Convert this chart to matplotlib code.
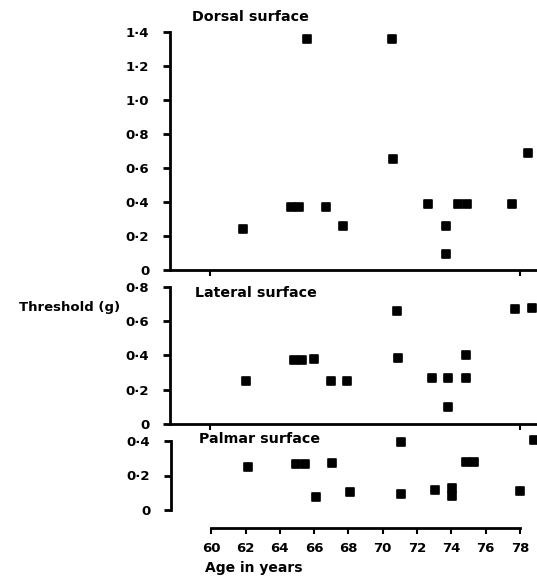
import matplotlib.pyplot as plt
from matplotlib.markers import MarkerStyle

# ages (years) and thresholds (g)
dorsal_age = [61.9, 64.7, 65.15, 65.6, 66.75, 67.7, 70.55, 70.65, 72.65, 73.7, 73.7, 74.4, 74.9, 77.55, 78.5]
dorsal_thr = [0.24, 0.37, 0.37, 1.36, 0.37, 0.26, 1.36, 0.655, 0.39, 0.26, 0.094, 0.39, 0.39, 0.39, 0.69]

lateral_age = [62.1, 64.85, 65.3, 66.05, 67.0, 67.95, 70.85, 70.9, 72.9, 73.85, 73.85, 74.85, 74.85, 77.7, 78.7]
lateral_thr = [0.253, 0.373, 0.373, 0.377, 0.25, 0.25, 0.66, 0.387, 0.27, 0.27, 0.10, 0.40, 0.27, 0.67, 0.675]

palmar_age = [62.15, 64.95, 65.45, 67.05, 66.1, 68.1, 71.05, 71.05, 73.05, 74.05, 74.05, 74.85, 75.35, 78.0, 78.8]
palmar_thr = [0.251, 0.265, 0.265, 0.27, 0.074, 0.106, 0.396, 0.091, 0.116, 0.126, 0.081, 0.28, 0.28, 0.112, 0.406]

age_ticks = [60, 62, 64, 66, 68, 70, 72, 74, 76, 78]

plt.rcParams['font.family'] = 'DejaVu Sans'
plt.rcParams['font.weight'] = 'bold'
plt.rcParams['font.size'] = 9.5

fig = plt.figure(figsize=(5.37, 5.8), dpi=100)
W, H = 537.0, 580.0

def box(x0, ytop, ybot):
    return [x0 / W, (H - ybot) / H, (W - x0) / W, (ybot - ytop) / H]

def lab(v):
    return '0' if v == 0 else ('%.1f' % v).replace('.', '\u00b7')

xlim = (57.65, 79.0)
sq = MarkerStyle('s', joinstyle='round')

panels = [
    ('Dorsal surface', dorsal_age, dorsal_thr, [0, 0.2, 0.4, 0.6, 0.8, 1.0, 1.2, 1.4], box(170, 32.3, 270)),
    ('Lateral surface', lateral_age, lateral_thr, [0, 0.2, 0.4, 0.6, 0.8], box(170, 286.7, 424)),
    ('Palmar surface', palmar_age, palmar_thr, [0, 0.2, 0.4], box(171, 441, 510)),
]

axes = []
for name, xs, ys, yt, pos in panels:
    ax = fig.add_axes(pos)
    ax.plot(xs, ys, linestyle='none', marker=sq, markersize=5.5, markeredgewidth=1.2,
            color='black', clip_on=False)
    ax.set_xlim(*xlim)
    ax.set_ylim(0, yt[-1])
    ax.set_yticks(yt)
    ax.set_yticklabels([lab(v) for v in yt])
    ax.spines['top'].set_visible(False)
    ax.spines['right'].set_visible(False)
    for s in ax.spines.values():
        s.set_linewidth(2)
    ax.tick_params(axis='y', direction='out', length=5, width=2, pad=10)
    ax.tick_params(axis='x', direction='out', length=4, width=1.5)
    ax.patch.set_visible(False)
    axes.append(ax)

ax1, ax2, ax3 = axes
for ax in (ax1, ax2):
    ax.set_xticks([60, 78])
    ax.set_xticklabels([])

ax3.spines['left'].set_bounds(0, 0.4)
ax3.spines['bottom'].set_position(('outward', 13))
ax3.spines['bottom'].set_bounds(60, 78)
ax3.set_xticks(age_ticks)
ax3.set_xticklabels([str(a) for a in age_ticks])
ax3.tick_params(axis='x', pad=6)

fig.text(192 / W, 1 - 17 / H, 'Dorsal surface', va='center', ha='left', fontsize=10.3)
fig.text(195 / W, 1 - 293 / H, 'Lateral surface', va='center', ha='left', fontsize=10.3)
fig.text(199 / W, 1 - 439 / H, 'Palmar surface', va='center', ha='left', fontsize=10.3)
fig.text(19 / W, 1 - 307 / H, 'Threshold (g)', va='center', ha='left')
fig.text(205 / W, 1 - 568 / H, 'Age in years', va='center', ha='left', fontsize=10)

plt.savefig('out.png', dpi=100)
